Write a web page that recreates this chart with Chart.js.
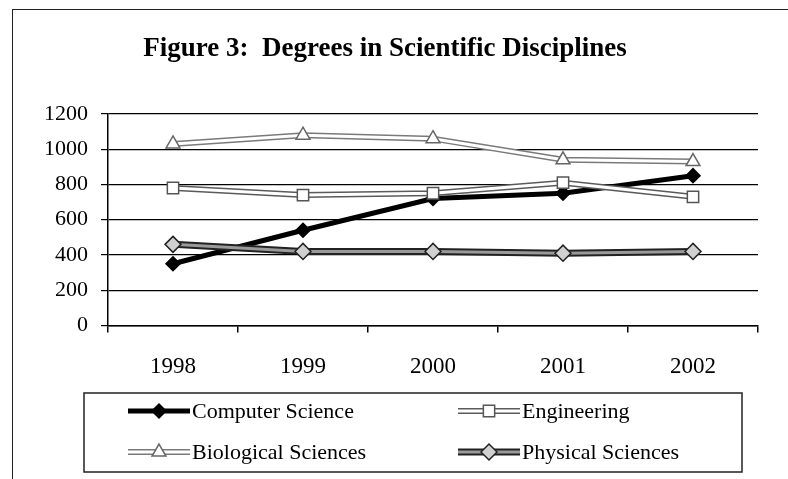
<!DOCTYPE html>
<html>
<head>
<meta charset="utf-8">
<script src="https://cdn.jsdelivr.net/npm/chart.js@4.4.1/dist/chart.umd.min.js"></script>
<style>
    html, body { margin: 0; padding: 0; background: #fff; overflow: hidden; }
    #frame { position: absolute; left: 12px; top: 9px; width: 780px; height: 500px; border: 1.5px solid #222; }
    #wrap { position: absolute; left: 0; top: 0; width: 788px; height: 479px; }
</style>
</head>
<body>
<div id="frame"></div>
<div id="wrap"><canvas id="chart"></canvas></div>
<script>
const years = ['1998', '1999', '2000', '2001', '2002']
const computerScience = [350, 540, 720, 750, 850]
const engineering = [780, 740, 750, 810, 730]
const biologicalSciences = [1030, 1080, 1060, 940, 930]
const physicalSciences = [460, 420, 420, 410, 420]
const yMax = 1200
const yStep = 200

const serif = "'Liberation Serif', 'Times New Roman', serif"

// one entry per series, later ones are drawn on top (like the original)
const series = [
    { label: 'Computer Science', data: computerScience, color: '#000', width: 5,
      marker: 'rectRot', radius: 7, fill: '#000', edge: '#000' },
    { label: 'Engineering', data: engineering, color: '#fff', width: 3, outline: '#5a5a5a', outlineWidth: 6,
      marker: 'rect', radius: 8, fill: '#fff', edge: '#555' },
    { label: 'Biological Sciences', data: biologicalSciences, color: '#fff', width: 3, outline: '#7a7a7a', outlineWidth: 6,
      marker: 'triangle', radius: 8, fill: '#fff', edge: '#666' },
    { label: 'Physical Sciences', data: physicalSciences, color: '#9a9a9a', width: 3, outline: '#222', outlineWidth: 7,
      marker: 'rectRot', radius: 8, fill: '#d0d0d0', edge: '#222' },
]

const datasets = []
let order = 100
series.forEach(s => {
    if (s.outline) {
        datasets.push({
            label: s.label + ' outline',
            data: s.data,
            borderColor: s.outline,
            borderWidth: s.outlineWidth,
            pointRadius: 0,
            order: order--
        })
    }
    datasets.push({
        label: s.label,
        data: s.data,
        borderColor: s.color,
        borderWidth: s.width,
        pointStyle: s.marker,
        pointRadius: s.radius,
        pointBackgroundColor: s.fill,
        pointBorderColor: s.edge,
        pointBorderWidth: 1.5,
        order: order--
    })
})

// legend in a 2 x 2 grid with a box round it
const gridLegend = {
    id: 'gridLegend',
    afterDraw(chart) {
        const ctx = chart.ctx
        const box = { left: 84, top: 393, width: 658, height: 79 }
        ctx.save()
        ctx.strokeStyle = '#222'
        ctx.lineWidth = 1.5
        ctx.strokeRect(box.left, box.top, box.width, box.height)

        const cols = [128, 458]
        const rows = [box.top + 18, box.top + 59]
        const sample = 62
        series.forEach((s, i) => {
            const x = cols[i % 2]
            const y = rows[Math.floor(i / 2)]
            ctx.lineCap = 'butt'
            if (s.outline) {
                ctx.strokeStyle = s.outline
                ctx.lineWidth = s.outlineWidth
                ctx.beginPath(); ctx.moveTo(x, y); ctx.lineTo(x + sample, y); ctx.stroke()
            }
            ctx.strokeStyle = s.color
            ctx.lineWidth = s.width
            ctx.beginPath(); ctx.moveTo(x, y); ctx.lineTo(x + sample, y); ctx.stroke()

            ctx.fillStyle = s.fill
            ctx.strokeStyle = s.edge
            ctx.lineWidth = 1.5
            Chart.helpers.drawPoint(ctx, { pointStyle: s.marker, radius: s.radius, rotation: 0, borderWidth: 1.5 }, x + sample / 2, y)

            ctx.fillStyle = '#000'
            ctx.font = '22px ' + serif
            ctx.textBaseline = 'middle'
            ctx.textAlign = 'left'
            ctx.fillText(s.label, x + sample + 2, y + 1)
        })
        ctx.restore()
    }
}

new Chart(document.getElementById('chart'), {
    type: 'line',
    data: { labels: years, datasets: datasets },
    plugins: [gridLegend],
    options: {
        responsive: true,
        maintainAspectRatio: false,
        animation: false,
        layout: { padding: { left: 12, right: 30, top: 0, bottom: 77 } },
        elements: { line: { tension: 0 } },
        plugins: {
            legend: { display: false },
            tooltip: { enabled: false },
            title: {
                display: true,
                text: 'Figure 3:  Degrees in Scientific Disciplines',
                color: '#000',
                font: { family: serif, size: 27, weight: 'bold' },
                padding: { top: 33, bottom: 48.6 }
            }
        },
        scales: {
            x: {
                offset: true,
                grid: { display: true, offset: true, drawOnChartArea: false, color: '#000', lineWidth: 1.5, tickLength: 7 },
                border: { color: '#000', width: 1.5 },
                ticks: { color: '#000', font: { family: serif, size: 23 }, padding: 21 }
            },
            y: {
                min: 0,
                max: yMax,
                ticks: {
                    stepSize: yStep,
                    color: '#000',
                    font: { family: serif, size: 22 },
                    padding: 13,
                    callback: value => String(value)
                },
                grid: { color: '#000', lineWidth: 1.2, tickLength: 7 },
                border: { color: '#000', width: 1.5 },
                afterFit(scale) { scale.width = 96 }
            }
        }
    }
})
</script>
</body>
</html>
